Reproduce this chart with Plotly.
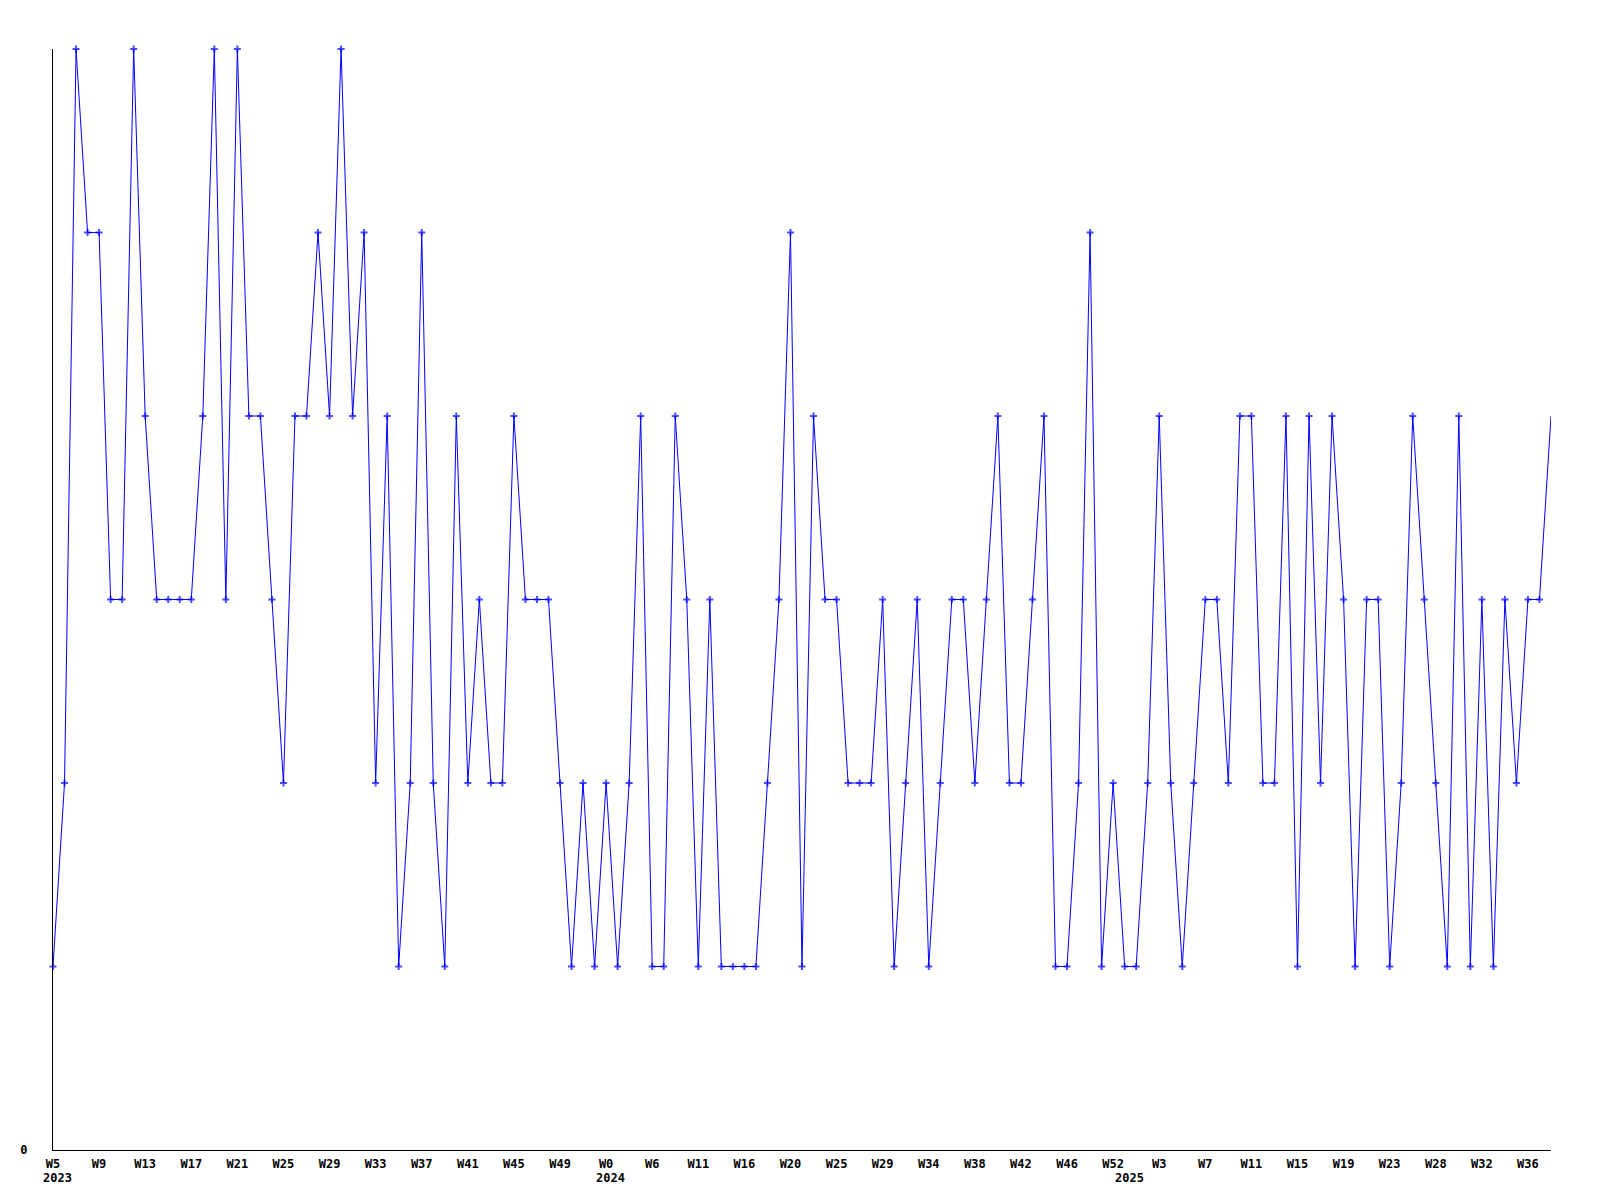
import plotly.graph_objects as go

# weekly values, one per point
values = [
    1, 2, 6, 5, 5, 3, 3, 6, 4, 3,
    3, 3, 3, 4, 6, 3, 6, 4, 4, 3,
    2, 4, 4, 5, 4, 6, 4, 5, 2, 4,
    1, 2, 5, 2, 1, 4, 2, 3, 2, 2,
    4, 3, 3, 3, 2, 1, 2, 1, 2, 1,
    2, 4, 1, 1, 4, 3, 1, 3, 1, 1,
    1, 1, 2, 3, 5, 1, 4, 3, 3, 2,
    2, 2, 3, 1, 2, 3, 1, 2, 3, 3,
    2, 3, 4, 2, 2, 3, 4, 1, 1, 2,
    5, 1, 2, 1, 1, 2, 4, 2, 1, 2,
    3, 3, 2, 4, 4, 2, 2, 4, 1, 4,
    2, 4, 3, 1, 3, 3, 1, 2, 4, 3,
    2, 1, 4, 1, 3, 1, 3, 2, 3, 3,
    4,
]

# one week label every 4 points
week_labels = [
    "W5", "W9", "W13", "W17", "W21", "W25", "W29", "W33", "W37", "W41", "W45", "W49",
    "W0", "W6", "W11", "W16", "W20", "W25", "W29", "W34", "W38", "W42", "W46",
    "W52", "W3", "W7", "W11", "W15", "W19", "W23", "W28", "W32", "W36",
]

# first point of each year
years = ["2023", "2024", "2025"]
year_start = [0, 48, 93]

step = 4
x = list(range(len(values)))
font = dict(family="DejaVu Sans Mono", size=12, color="black", weight="bold")

# the last point is drawn without a marker in the original
sizes = [5] * (len(values) - 1) + [0]

fig = go.Figure()
fig.add_trace(go.Scatter(
    x=x, y=values,
    mode="lines+markers",
    line=dict(color="#0000ff", width=1),
    marker=dict(symbol="cross-thin", size=sizes, line=dict(width=2, color="#0000ff")),
    cliponaxis=False,
    hoverinfo="skip",
))

for yr, pos in zip(years, year_start):
    fig.add_annotation(
        x=pos, y=0, yref="paper", text=yr, showarrow=False,
        xanchor="left", yanchor="top", xshift=-12, yshift=-19, font=font,
    )

# page body has an 8px margin, so the figure is a bit smaller than the window
fig.update_layout(
    width=1584, height=1184,
    margin=dict(l=42, r=41, t=41, b=42),
    paper_bgcolor="white", plot_bgcolor="white",
    showlegend=False,
    font=font,
)
fig.update_xaxes(
    range=[0, len(values) - 1],
    tickvals=x[::step], ticktext=week_labels,
    showline=True, linecolor="black", linewidth=1,
    showgrid=False, zeroline=False, ticks="",
    ticklabelstandoff=3, tickfont=font,
)
fig.update_yaxes(
    range=[0, 6],
    tickvals=[0], ticktext=["0"],
    showline=True, linecolor="black", linewidth=1,
    showgrid=False, zeroline=False, ticks="",
    ticklabelstandoff=22, tickfont=font,
)

fig.write_html("out.html")
